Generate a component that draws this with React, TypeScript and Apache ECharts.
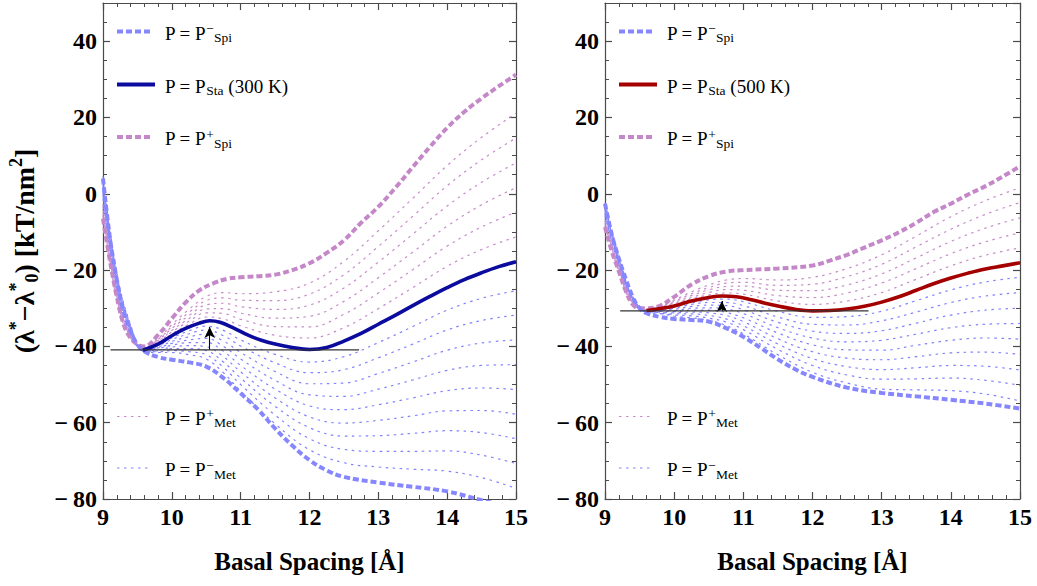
import React, { useEffect, useRef } from "react";
import * as echarts from "echarts";

const FONT = '"Liberation Serif", "Times New Roman", Times, serif';

// ---------- axis ranges / ticks ----------
const xMin = 9;
const xMax = 15;
const xStep = 1;
const yMin = -80;
const yMax = 50;
const yStep = 20;
const yMinorStep = 5;

// common abscissa for the thin (metastable) family
const thinX = [9.0, 9.2, 9.4, 9.6, 9.8, 10.0, 10.25, 10.5, 10.75, 11.0, 11.5, 12.0, 12.5, 13.0, 13.5, 14.0, 14.5, 15.0];

// ---------- LEFT PANEL (300 K) ----------
const leftSpiMinusX = [9.0, 9.1, 9.2, 9.3, 9.4, 9.5, 9.6, 9.8, 10.0, 10.25, 10.5, 10.75, 11.0, 11.25, 11.5, 11.75, 12.0, 12.25, 12.5, 13.0, 13.5, 14.0, 14.5, 15.0];
const leftSpiMinusY = [4.0, -11.5, -22.5, -31.0, -36.0, -39.5, -41.3, -42.8, -43.5, -44.2, -45.3, -48.3, -52.3, -56.5, -61.5, -66.0, -69.8, -72.5, -74.2, -75.7, -76.8, -78.0, -80.3, -82.5];

const leftSpiPlusX = [9.0, 9.1, 9.2, 9.3, 9.4, 9.5, 9.6, 9.8, 10.0, 10.2, 10.4, 10.6, 10.8, 11.0, 11.25, 11.5, 11.75, 12.0, 12.25, 12.5, 12.75, 13.0, 13.25, 13.5, 13.75, 14.0, 14.25, 14.5, 14.75, 15.0];
const leftSpiPlusY = [-6.5, -17.5, -27.0, -34.3, -37.8, -39.5, -40.0, -37.0, -32.7, -28.5, -25.3, -23.5, -22.3, -21.9, -21.6, -21.2, -20.0, -18.2, -15.5, -12.2, -7.6, -3.4, 1.6, 7.0, 12.3, 17.3, 21.5, 25.0, 28.2, 31.2];

const leftStaX = [9.58, 9.8, 10.0, 10.2, 10.4, 10.55, 10.7, 10.9, 11.1, 11.3, 11.5, 11.75, 12.0, 12.25, 12.5, 12.75, 13.0, 13.25, 13.5, 13.75, 14.0, 14.25, 14.5, 14.75, 15.0];
const leftStaY = [-41.0, -39.4, -37.2, -35.3, -33.9, -33.3, -33.7, -35.2, -37.0, -38.4, -39.4, -40.3, -40.8, -40.3, -38.6, -36.6, -34.2, -31.8, -29.3, -26.9, -24.6, -22.5, -20.7, -19.1, -17.8];

const leftMetPlus = [
  [-2.7, -25.5, -36.7, -40.8, -39.2, -36.7, -34.2, -32.3, -32.8, -34.6, -37.1, -37.8, -35.1, -30.1, -24.6, -19.0, -14.6, -11.3],
  [-3.4, -26.0, -37.0, -40.7, -38.9, -36.2, -33.4, -31.2, -31.4, -32.9, -34.8, -34.9, -31.6, -26.0, -19.9, -13.7, -8.7, -4.8],
  [-4.2, -26.4, -37.2, -40.6, -38.7, -35.8, -32.7, -30.2, -30.1, -31.3, -32.6, -32.1, -28.2, -22.0, -15.3, -8.5, -2.9, 1.6],
  [-4.9, -26.9, -37.5, -40.5, -38.4, -35.3, -31.9, -29.1, -28.7, -29.6, -30.3, -29.2, -24.7, -17.9, -10.6, -3.2, 3.0, 8.1],
  [-5.6, -27.4, -37.7, -40.4, -38.2, -34.8, -31.1, -28.0, -27.3, -27.9, -28.0, -26.3, -21.2, -13.8, -5.9, 2.1, 8.9, 14.6],
  [-6.3, -27.9, -37.9, -40.3, -38.0, -34.3, -30.3, -26.9, -25.9, -26.2, -25.7, -23.4, -17.7, -9.7, -1.2, 7.4, 14.8, 21.1],
];

const leftMetMinus = [
  [-1.2, -24.4, -36.2, -41.0, -39.7, -37.8, -35.9, -34.7, -35.8, -38.3, -42.1, -44.1, -42.7, -39.0, -34.8, -30.5, -27.4, -25.4],
  [-0.4, -24.0, -36.0, -41.0, -39.9, -38.2, -36.7, -35.7, -37.2, -39.9, -44.3, -46.9, -46.1, -43.0, -39.4, -35.7, -33.2, -31.8],
  [0.3, -23.5, -35.7, -41.1, -40.2, -38.7, -37.5, -36.8, -38.6, -41.6, -46.6, -49.8, -49.6, -47.1, -44.1, -41.0, -39.1, -38.3],
  [1.0, -23.0, -35.5, -41.1, -40.4, -39.2, -38.3, -37.9, -40.0, -43.3, -48.9, -52.7, -53.1, -51.2, -48.8, -46.3, -45.0, -44.8],
  [1.7, -22.5, -35.3, -41.2, -40.6, -39.7, -39.0, -39.0, -41.3, -45.0, -51.2, -55.6, -56.6, -55.3, -53.5, -51.6, -50.9, -51.3],
  [2.4, -22.0, -35.0, -41.2, -40.9, -40.2, -39.8, -40.1, -42.7, -46.7, -53.5, -58.5, -60.1, -59.4, -58.2, -56.9, -56.8, -57.8],
  [3.2, -21.6, -34.8, -41.3, -41.1, -40.6, -40.6, -41.1, -44.1, -48.3, -55.7, -61.3, -63.5, -63.4, -62.8, -62.1, -62.6, -64.2],
  [3.9, -21.1, -34.5, -41.3, -41.4, -41.1, -41.4, -42.2, -45.5, -50.0, -58.0, -64.2, -67.0, -67.5, -67.5, -67.4, -68.5, -70.7],
  [4.6, -20.6, -34.3, -41.3, -41.6, -41.6, -42.2, -43.3, -46.9, -51.7, -60.3, -67.1, -70.5, -71.6, -72.2, -72.7, -74.4, -77.2],
];

const leftBaseX = [9.11, 12.72];
const leftBaseY = -40.9;
const leftArrow = [10.55, -33.5]; // x, tip value

// ---------- RIGHT PANEL (500 K) ----------
const rightSpiMinusX = [9.0, 9.1, 9.2, 9.3, 9.4, 9.5, 9.6, 9.8, 10.0, 10.25, 10.5, 10.75, 11.0, 11.25, 11.5, 11.75, 12.0, 12.5, 13.0, 13.5, 14.0, 14.5, 15.0];
const rightSpiMinusY = [-2.6, -10.8, -17.0, -22.3, -27.0, -30.0, -31.3, -32.3, -32.8, -33.1, -33.5, -35.2, -37.5, -40.4, -43.4, -46.0, -48.0, -50.8, -52.2, -53.1, -54.0, -55.0, -56.3];

const rightSpiPlusX = [9.0, 9.1, 9.2, 9.3, 9.4, 9.5, 9.6, 9.8, 10.0, 10.25, 10.5, 10.75, 11.0, 11.5, 12.0, 12.25, 12.5, 12.75, 13.0, 13.25, 13.5, 13.75, 14.0, 14.25, 14.5, 14.75, 15.0];
const rightSpiPlusY = [-8.7, -15.2, -20.3, -25.5, -29.0, -30.0, -30.0, -29.3, -27.0, -23.8, -21.6, -20.4, -20.0, -19.6, -18.8, -17.5, -16.0, -14.1, -12.2, -10.1, -7.6, -4.8, -2.6, -0.2, 2.0, 4.5, 7.2];

const rightStaX = [9.6, 9.8, 10.0, 10.25, 10.5, 10.69, 10.9, 11.1, 11.3, 11.5, 11.75, 12.0, 12.25, 12.5, 12.75, 13.0, 13.25, 13.5, 13.75, 14.0, 14.25, 14.5, 14.75, 15.0];
const rightStaY = [-30.6, -30.1, -29.4, -28.1, -27.2, -26.8, -27.0, -27.7, -28.6, -29.4, -30.3, -30.7, -30.6, -30.2, -29.5, -28.4, -27.0, -25.3, -23.6, -22.1, -20.8, -19.7, -18.9, -18.1];

const rightMetPlus = [
  [-6.7, -19.3, -28.4, -30.5, -30.0, -29.1, -27.6, -26.5, -26.0, -26.3, -28.1, -29.0, -28.1, -25.9, -22.4, -18.9, -16.1, -14.2],
  [-7.2, -19.6, -28.5, -30.5, -29.8, -28.8, -27.2, -25.9, -25.1, -25.3, -26.7, -27.2, -26.0, -23.4, -19.6, -15.7, -12.6, -10.2],
  [-7.6, -19.9, -28.6, -30.4, -29.7, -28.5, -26.7, -25.2, -24.3, -24.2, -25.3, -25.4, -23.9, -21.0, -16.8, -12.5, -9.0, -6.3],
  [-8.1, -20.2, -28.8, -30.4, -29.5, -28.2, -26.2, -24.6, -23.4, -23.2, -24.0, -23.7, -21.7, -18.5, -13.9, -9.3, -5.4, -2.3],
  [-8.5, -20.5, -28.9, -30.3, -29.4, -27.9, -25.7, -23.9, -22.6, -22.2, -22.6, -21.9, -19.6, -16.0, -11.1, -6.0, -1.8, 1.6],
];

const rightMetMinus = [
  [-5.9, -18.7, -28.1, -30.7, -30.2, -29.7, -28.6, -27.8, -27.6, -28.3, -30.8, -32.4, -32.2, -30.8, -28.0, -25.2, -23.1, -21.9],
  [-5.4, -18.4, -27.9, -30.7, -30.4, -30.0, -29.0, -28.5, -28.5, -29.3, -32.3, -34.2, -34.4, -33.3, -31.0, -28.5, -26.8, -25.9],
  [-5.0, -18.1, -27.8, -30.8, -30.5, -30.3, -29.5, -29.2, -29.3, -30.4, -33.7, -36.0, -36.6, -35.9, -33.9, -31.8, -30.5, -30.0],
  [-4.5, -17.8, -27.6, -30.8, -30.7, -30.6, -30.0, -29.9, -30.2, -31.4, -35.1, -37.8, -38.8, -38.4, -36.8, -35.1, -34.2, -34.0],
  [-4.1, -17.5, -27.5, -30.9, -30.8, -30.9, -30.5, -30.5, -31.1, -32.5, -36.5, -39.6, -40.9, -41.0, -39.7, -38.4, -37.8, -38.1],
  [-3.6, -17.2, -27.3, -30.9, -31.0, -31.2, -31.0, -31.2, -31.9, -33.5, -38.0, -41.4, -43.1, -43.5, -42.7, -41.7, -41.5, -42.1],
  [-3.2, -16.9, -27.2, -31.0, -31.1, -31.5, -31.5, -31.9, -32.8, -34.6, -39.4, -43.2, -45.3, -46.1, -45.6, -45.0, -45.2, -46.2],
  [-2.7, -16.6, -27.0, -31.0, -31.3, -31.8, -32.0, -32.6, -33.6, -35.6, -40.8, -45.0, -47.5, -48.6, -48.5, -48.3, -48.9, -50.2],
  [-2.3, -16.3, -26.9, -31.1, -31.4, -32.1, -32.5, -33.2, -34.5, -36.7, -42.2, -46.8, -49.6, -51.2, -51.4, -51.6, -52.5, -54.3],
];

const rightBaseX = [9.22, 12.81];
const rightBaseY = -30.7;
const rightArrow = [10.69, -26.7];

// ---------- labels ----------
const xAxisTitle = "Basal Spacing [Å]";
const yAxisTitle = "{b|(λ}{sup|*}{b|−λ}{sup|*}{sub|0}{b|) [kT/nm}{sup|2}{b|]}";
const leftTemp = "300 K";
const rightTemp = "500 K";

// ---------- styles ----------
const BLUE = "#8686ff";
const PURPLE = "#c488c9";
const THIN_BLUE = "#8282ff";
const THIN_PURPLE = "#c88ccb";
const LEFT_STA = "#0b0b9e";
const RIGHT_STA = "#a50000";
const FRAME = "#4a4a4a";
const THICK_DASH = [6, 3];
const THIN_DASH = [2.5, 4.5];

const pairs = (xs: number[], ys: number[]) => xs.map((x, i) => [x, ys[i]]);

function lineSeries(data: number[][], color: string, width: number, dash: any, xi: number, yi: number, z: number) {
  return {
    type: "line",
    xAxisIndex: xi,
    yAxisIndex: yi,
    data,
    smooth: 0.4,
    symbol: "none",
    showSymbol: false,
    silent: true,
    clip: true,
    z,
    lineStyle: { color, width, type: dash || "solid", cap: "butt" },
    itemStyle: { color },
  };
}

function panelSeries(
  xi: number,
  yi: number,
  spiMinus: number[][],
  spiPlus: number[][],
  sta: number[][],
  metPlus: number[][],
  metMinus: number[][],
  baseX: number[],
  baseY: number,
  arrow: number[],
  staColor: string
) {
  const s: any[] = [];
  metPlus.forEach((row) => s.push(lineSeries(pairs(thinX, row), THIN_PURPLE, 1.2, THIN_DASH, xi, yi, 2)));
  metMinus.forEach((row) => s.push(lineSeries(pairs(thinX, row), THIN_BLUE, 1.2, THIN_DASH, xi, yi, 2)));
  s.push(lineSeries(spiPlus, PURPLE, 4, THICK_DASH, xi, yi, 3));
  s.push(lineSeries(spiMinus, BLUE, 4, THICK_DASH, xi, yi, 4));
  s.push(lineSeries(sta, staColor, 3.6, null, xi, yi, 5));
  const base: any = lineSeries(pairs(baseX, [baseY, baseY]), "#333333", 1.2, null, xi, yi, 6);
  base.smooth = false;
  base.markLine = {
    silent: true,
    animation: false,
    symbol: ["none", "arrow"],
    symbolSize: 11,
    label: { show: false },
    lineStyle: { color: "#000", width: 1.1, type: "solid" },
    itemStyle: { color: "#000" },
    data: [[{ coord: [arrow[0], baseY] }, { coord: [arrow[0], arrow[1] - 1.4], symbolSize: [8, 11] }]],
  };
  s.push(base);
  return s;
}

function xAxesFor(gi: number) {
  const base: any = {
    gridIndex: gi,
    type: "value",
    min: xMin,
    max: xMax,
    interval: xStep,
    splitLine: { show: false },
    axisLine: { show: true, onZero: false, lineStyle: { color: FRAME, width: 1.2 } },
    axisTick: { show: true, inside: true, length: 7, lineStyle: { color: FRAME, width: 1.2 } },
    minorTick: { show: true, splitNumber: 5, length: 4, lineStyle: { color: FRAME, width: 1 } },
    minorSplitLine: { show: false },
  };
  return [
    {
      ...base,
      position: "bottom",
      axisLabel: { show: true, margin: 6, color: "#000", fontFamily: FONT, fontWeight: "bold", fontSize: 24 },
      name: xAxisTitle,
      nameLocation: "middle",
      nameGap: 50,
      nameTextStyle: { color: "#000", fontFamily: FONT, fontWeight: "bold", fontSize: 25 },
    },
    { ...base, position: "top", axisLabel: { show: false } },
  ];
}

function yAxesFor(gi: number, withName: boolean) {
  const common: any = { gridIndex: gi, type: "value", min: yMin, max: yMax, splitLine: { show: false } };
  const major: any = {
    ...common,
    interval: yStep,
    axisLine: { show: true, onZero: false, lineStyle: { color: FRAME, width: 1.2 } },
    axisTick: { show: true, inside: true, length: 7, lineStyle: { color: FRAME, width: 1.2 } },
  };
  const minor: any = {
    ...common,
    interval: yMinorStep,
    axisLine: { show: false, onZero: false },
    axisTick: { show: true, inside: true, length: 4, lineStyle: { color: FRAME, width: 1 } },
    axisLabel: { show: false },
  };
  const left: any = {
    ...major,
    position: "left",
    axisLabel: {
      show: true,
      margin: 6,
      showMaxLabel: false,
      color: "#000",
      fontFamily: FONT,
      fontWeight: "bold",
      fontSize: 24,
      formatter: (v: number) => (v < 0 ? "−\u2009" + Math.abs(v) : String(v)),
    },
  };
  if (withName) {
    left.name = yAxisTitle;
    left.nameLocation = "middle";
    left.nameRotate = 90;
    left.nameGap = 62;
    left.nameTextStyle = {
      color: "#000",
      fontFamily: FONT,
      fontWeight: "bold",
      fontSize: 28,
      rich: {
        b: { fontFamily: FONT, fontWeight: "bold", fontSize: 28, lineHeight: 34, color: "#000" },
        sup: { fontFamily: FONT, fontWeight: "bold", fontSize: 18, lineHeight: 18, verticalAlign: "top", color: "#000" },
        sub: { fontFamily: FONT, fontWeight: "bold", fontSize: 18, lineHeight: 18, verticalAlign: "bottom", color: "#000" },
      },
    };
  }
  return [
    left,
    { ...minor, position: "left" },
    { ...major, position: "right", axisLabel: { show: false } },
    { ...minor, position: "right" },
  ];
}

const legendRich = {
  b: { fontFamily: FONT, fontSize: 19, lineHeight: 23, fill: "#000", color: "#000" },
  sup: { fontFamily: FONT, fontSize: 13.5, lineHeight: 13, verticalAlign: "top", fill: "#000", color: "#000" },
  sub: { fontFamily: FONT, fontSize: 13.5, lineHeight: 13, verticalAlign: "bottom", fill: "#000", color: "#000" },
};

function legendGraphics(dx: number, temp: string, staColor: string) {
  const items = [
    { y: 31.5, color: BLUE, width: 4, dash: THICK_DASH, x2: 152, text: "{b|P = P}{sup|−}{sub|Spi}" },
    { y: 84.5, color: staColor, width: 4, dash: null, x2: 155, text: "{b|P = P}{sub|Sta}{b| (" + temp + ")}" },
    { y: 137, color: PURPLE, width: 4, dash: THICK_DASH, x2: 152, text: "{b|P = P}{sup|+}{sub|Spi}" },
    { y: 416.5, color: THIN_PURPLE, width: 1.2, dash: THIN_DASH, x2: 150, text: "{b|P = P}{sup|+}{sub|Met}" },
    { y: 468, color: THIN_BLUE, width: 1.2, dash: THIN_DASH, x2: 150, text: "{b|P = P}{sup|−}{sub|Met}" },
  ];
  const els: any[] = [];
  items.forEach((it) => {
    els.push({
      type: "line",
      silent: true,
      z: 10,
      shape: { x1: 117 + dx, y1: it.y, x2: it.x2 + dx, y2: it.y },
      style: { stroke: it.color, lineWidth: it.width, lineDash: it.dash || null, lineCap: "butt" },
    });
    els.push({
      type: "text",
      silent: true,
      z: 10,
      x: 165 + dx,
      y: it.y + 1.5,
      style: {
        text: it.text,
        rich: legendRich,
        fontFamily: FONT,
        fontSize: 19,
        fill: "#000",
        align: "left",
        verticalAlign: "middle",
      },
    });
  });
  return els;
}

function buildOption(): any {
  const series = [
    ...panelSeries(
      0,
      0,
      pairs(leftSpiMinusX, leftSpiMinusY),
      pairs(leftSpiPlusX, leftSpiPlusY),
      pairs(leftStaX, leftStaY),
      leftMetPlus,
      leftMetMinus,
      leftBaseX,
      leftBaseY,
      leftArrow,
      LEFT_STA
    ),
    ...panelSeries(
      2,
      4,
      pairs(rightSpiMinusX, rightSpiMinusY),
      pairs(rightSpiPlusX, rightSpiPlusY),
      pairs(rightStaX, rightStaY),
      rightMetPlus,
      rightMetMinus,
      rightBaseX,
      rightBaseY,
      rightArrow,
      RIGHT_STA
    ),
  ];
  return {
    animation: false,
    backgroundColor: "#ffffff",
    grid: [
      { left: 103, top: 3, width: 413, height: 496, containLabel: false },
      { left: 605, top: 3, width: 415, height: 496, containLabel: false },
    ],
    xAxis: [...xAxesFor(0), ...xAxesFor(1)],
    yAxis: [...yAxesFor(0, true), ...yAxesFor(1, false)],
    series,
    graphic: [...legendGraphics(0, leftTemp, LEFT_STA), ...legendGraphics(502, rightTemp, RIGHT_STA)],
  };
}

export default function App() {
  const ref = useRef<HTMLDivElement>(null);
  useEffect(() => {
    document.body.style.margin = "0";
    const chart = echarts.init(ref.current as HTMLDivElement, undefined, { renderer: "svg" });
    chart.setOption(buildOption());
    return () => chart.dispose();
  }, []);
  return (
    <div
      ref={ref}
      style={{ position: "fixed", left: 0, top: 0, width: 1037, height: 586, background: "#fff" }}
    />
  );
}
